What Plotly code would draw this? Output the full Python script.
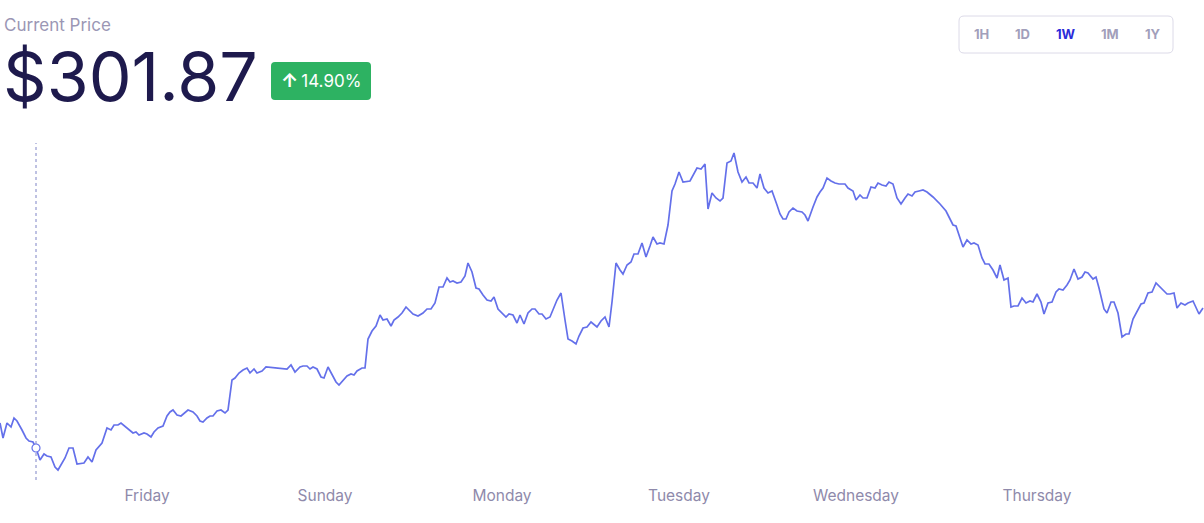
import plotly.graph_objects as go

W, H = 1204, 523
PLOT_TOP, PLOT_BOTTOM = 140, 480

# ---- data ----
t_steps = [0,3,7,11,14,17,22,26,29,33,36,40,44,47,51,55,58,65,69,73,77,81,84,88,92,96,102,107,111,114,118,121,126,133,136,139,144,147,151,154,158,163,167,170,173,177,181,185,188,193,197,200,203,207,210,213,217,221,225,228,232,235,239,243,247,250,254,257,262,266,287,291,295,300,303,307,310,313,317,321,324,328,333,336,339,343,347,351,354,357,362,365,368,372,376,380,383,387,391,394,398,402,406,413,418,423,427,431,435,439,443,447,450,453,457,461,465,468,472,476,479,483,487,491,494,498,502,506,509,513,517,520,524,528,532,535,539,542,546,550,557,561,565,568,572,576,579,583,587,591,597,601,605,609,612,616,620,623,627,631,634,638,642,646,650,653,657,660,664,668,672,675,679,683,690,697,701,705,708,712,716,720,723,727,731,734,738,742,746,749,753,757,760,764,768,772,777,780,783,786,789,793,797,802,805,808,813,817,820,823,827,831,835,839,845,848,853,856,860,863,867,871,875,878,882,886,889,893,897,901,905,908,912,915,919,923,927,933,940,946,949,953,956,960,963,967,971,974,978,982,985,989,993,997,1000,1004,1008,1011,1014,1018,1022,1026,1030,1033,1037,1041,1044,1048,1052,1056,1059,1063,1067,1070,1074,1078,1082,1085,1088,1093,1096,1099,1104,1107,1111,1114,1118,1122,1126,1129,1133,1141,1144,1148,1152,1156,1160,1167,1170,1174,1177,1181,1185,1188,1193,1199,1203]

prices = [274.25,270.5,274.25,273.25,275.5,274.75,272.5,270.5,269.75,269.5,268,265,266.5,266,265.75,263.25,262.5,265.5,268,268,264,264.25,264.25,265.75,264.5,267.5,269.25,273,272.5,273.75,273.75,274.25,273.25,271.75,272,271.25,271.75,271.5,270.75,272,273,273.5,276,277,277.5,276.25,276,277,277.5,277,276,274.75,274.5,275.5,276,276,277.25,277.5,276.75,277.5,285,285.5,286.75,287.5,288,286.75,287.75,286.75,287.25,288.25,287.75,288.75,287,288.25,288.5,288.5,287.75,288.25,287.75,285.75,285.5,288.25,285.75,284.5,283.75,285,286,286.5,286.25,287.25,288,288,295.25,297.25,298.5,301.25,300,300.25,298.5,300,300.75,301.75,303.25,301.5,301,301.75,302.75,302.75,304.25,308.25,308.25,310.5,309.5,309.75,309.25,309.5,311,314.25,312,308,307.75,306.25,305,304.75,305.75,302.75,301.75,300.75,301.5,301.25,299.25,301.25,299,301.75,302.75,302.75,301.5,301.5,300.25,300.75,305,306.75,300,295.25,294.75,294,296,298,298.25,299.5,298.25,299.75,300.75,298.25,304.5,314.25,312.5,311.5,313.75,314.5,316.5,316.5,319.25,315.75,318.5,320.75,319,319.25,319,323.75,332.25,334,337,334.5,334.75,338,337.75,339,327.75,331.75,330.5,329.75,330.5,339.25,339.75,341.75,337,334.5,335.75,334.25,334.25,333,336.5,333,331.75,332.25,328.75,326.5,325.25,325.25,327,328,327.25,327,326.25,324.75,328.25,330.75,332,333,335.5,334.75,334.25,334,334,333,332.25,330,331.25,330.5,330.5,333.25,333,334.25,333.75,333.5,334.5,334,330.5,329,330.5,331.5,331,332,332.25,332.5,332,330.75,329,327.25,325.75,323.75,323.5,320.5,318.25,320,319,319.25,318.75,315.5,314,314,312.5,310.5,313.75,310,310.5,303.25,303.5,303.5,305.5,304.25,304.75,304.5,306.5,304.5,301.5,304.25,304.5,307,307.75,307.5,308.75,310,312.75,310.25,310.75,312,311.75,310.25,310.75,308,302.75,301.75,304.5,304.5,301.75,295.75,296.5,296.5,300.25,304,304.25,306.75,307,309.25,308.25,306.5,306.5,306.75,303,304.25,303.75,304.25,304.75,301.5,303]

day_labels = ["Friday", "Sunday", "Monday", "Tuesday", "Wednesday", "Thursday"]
day_tick_pos = [147, 325, 502, 679, 856, 1037]

range_buttons = ["1H", "1D", "1W", "1M", "1Y"]
active_button = "1W"
current_price_text = "$301.87"
change_text = "14.90%"
cursor_index = 10

LINE_COLOR = "#6470ea"
MUTED = "#9b97b5"
FONT = "Inter, Roboto, sans-serif"


def px(x):
    return x / W


def py(y):
    return (PLOT_BOTTOM - y) / (PLOT_BOTTOM - PLOT_TOP)


def rounded_rect(x0, y0, x1, y1, r):
    """Rounded rectangle path in paper coords from pixel box."""
    X0, X1 = px(x0), px(x1)
    Y0, Y1 = py(y0), py(y1)
    rx, ry = r / W, r / (PLOT_BOTTOM - PLOT_TOP)
    return (f"M {X0+rx},{Y0} L {X1-rx},{Y0} Q {X1},{Y0} {X1},{Y0-ry} "
            f"L {X1},{Y1+ry} Q {X1},{Y1} {X1-rx},{Y1} L {X0+rx},{Y1} "
            f"Q {X0},{Y1} {X0},{Y1+ry} L {X0},{Y0-ry} Q {X0},{Y0} {X0+rx},{Y0} Z")


fig = go.Figure()
fig.add_trace(go.Scatter(
    x=t_steps, y=prices, mode="lines",
    line=dict(color=LINE_COLOR, width=1.7),
    hoverinfo="skip", showlegend=False,
))
fig.add_trace(go.Scatter(
    x=[t_steps[cursor_index]], y=[prices[cursor_index]], mode="markers",
    marker=dict(size=8, color="white", line=dict(color=LINE_COLOR, width=1.2)),
    hoverinfo="skip", showlegend=False,
))

shapes = [
    dict(type="line", xref="x", yref="paper",
         x0=t_steps[cursor_index], x1=t_steps[cursor_index], y0=0, y1=py(143),
         line=dict(color="#7f84c6", width=1, dash="dot"), layer="below"),
    dict(type="path", xref="paper", yref="paper",
         path=rounded_rect(271, 62, 371, 100, 4),
         fillcolor="#2db262", line=dict(width=0)),
    dict(type="path", xref="paper", yref="paper",
         path=rounded_rect(959, 16, 1173, 53, 5),
         fillcolor="rgba(0,0,0,0)", line=dict(color="#dcdae8", width=1)),
]

annotations = [
    dict(text="Current Price", x=px(2), y=py(25), xref="paper", yref="paper",
         xanchor="left", yanchor="middle", showarrow=False,
         font=dict(family=FONT, size=17, color=MUTED)),
    dict(text=current_price_text, x=px(1), y=py(76), xref="paper", yref="paper",
         xanchor="left", yanchor="middle", showarrow=False,
         font=dict(family=FONT, size=68, color="#1e1a4d")),
    dict(text="<span style='font-size:19px'><b>↑</b></span>\u2009" + change_text,
         x=px(321), y=py(81), xref="paper", yref="paper",
         xanchor="center", yanchor="middle", showarrow=False,
         font=dict(family=FONT, size=17, color="white")),
]

btn_x = [981, 1022, 1066, 1110, 1153]
for lab, bx in zip(range_buttons, btn_x):
    annotations.append(dict(
        text=f"<b>{lab}</b>", x=px(bx), y=py(34), xref="paper", yref="paper",
        xanchor="center", yanchor="middle", showarrow=False,
        font=dict(family=FONT, size=13, color="#2b2bd9" if lab == active_button else "#a29fbb")))

fig.update_layout(
    width=W, height=H,
    margin=dict(l=0, r=0, t=PLOT_TOP, b=H - PLOT_BOTTOM, pad=0),
    paper_bgcolor="white", plot_bgcolor="white",
    shapes=shapes, annotations=annotations,
    xaxis=dict(range=[0, W], showgrid=False, zeroline=False, showline=False,
               tickvals=day_tick_pos, ticktext=day_labels, ticks="",
               ticklabelstandoff=4,
               tickfont=dict(family=FONT, size=15.5, color="#8f8aab"),
               fixedrange=True),
    yaxis=dict(range=[260, 345], visible=False, fixedrange=True),
    showlegend=False,
)

fig.write_html("out.html", config={"displayModeBar": False},
               post_script="document.body.style.margin='0';document.body.style.overflow='hidden';")
